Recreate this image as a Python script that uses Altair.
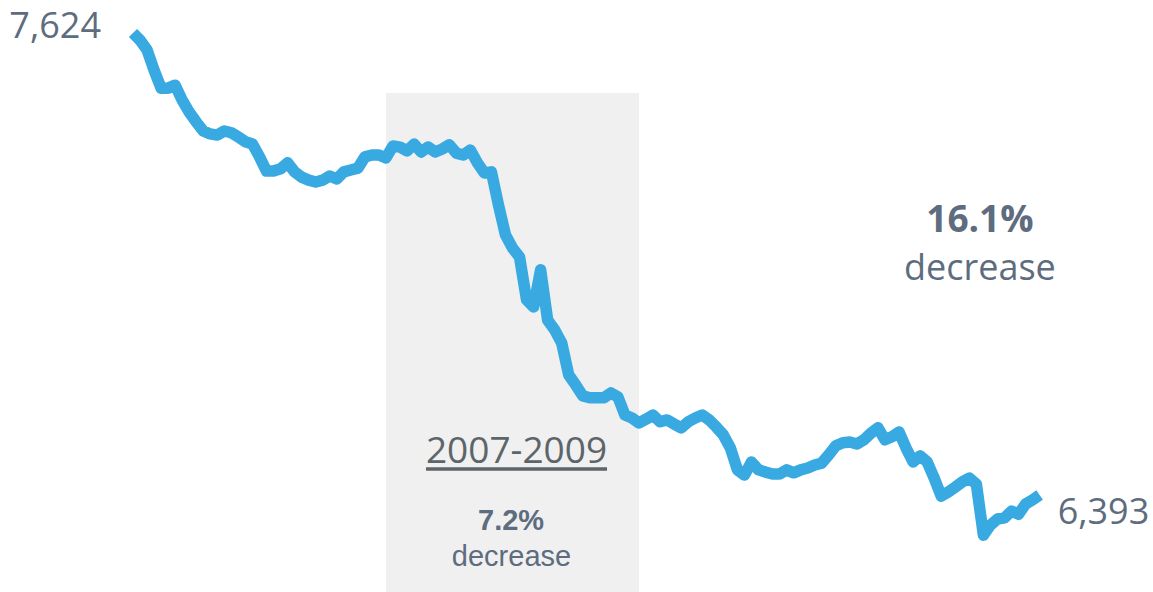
import altair as alt
import pandas as pd

# Monthly series, Jan 2004 .. Oct 2014
start_month = "2004-01"
values = [
    7624, 7605, 7579, 7525, 7477, 7477, 7485, 7445, 7413, 7387, 7363, 7355,   # 2004
    7352, 7363, 7358, 7347, 7334, 7328, 7294, 7256, 7256, 7262, 7278, 7254,   # 2005
    7240, 7232, 7227, 7232, 7243, 7235, 7254, 7259, 7264, 7294, 7299, 7299,   # 2006
    7291, 7323, 7320, 7310, 7328, 7307, 7320, 7307, 7315, 7326, 7304, 7299,   # 2007
    7312, 7278, 7251, 7254, 7166, 7086, 7051, 7027, 6913, 6894, 6993, 6859,   # 2008
    6833, 6798, 6713, 6686, 6657, 6652, 6652, 6652, 6665, 6654, 6606, 6598,   # 2009
    6585, 6595, 6606, 6588, 6593, 6582, 6572, 6588, 6598, 6606, 6593, 6574,   # 2010
    6553, 6518, 6460, 6446, 6481, 6460, 6454, 6449, 6449, 6460, 6452, 6460,   # 2011
    6465, 6473, 6478, 6500, 6524, 6532, 6534, 6529, 6540, 6558, 6572, 6540,   # 2012
    6548, 6561, 6518, 6481, 6497, 6481, 6438, 6390, 6401, 6414, 6428, 6438,   # 2013
    6422, 6286, 6313, 6329, 6332, 6350, 6342, 6369, 6380, 6393,               # 2014
]

period_label = "2007-2009"
period_start = "2007-01"
period_end = "2010-01"
period_change = "7.2%"
total_change = "16.1%"
change_word = "decrease"

dates = pd.date_range(start_month, periods=len(values), freq="MS")
base = pd.Timestamp(start_month)


def month_index(d):
    d = pd.Timestamp(d)
    return int((d.year - base.year) * 12 + (d.month - base.month))


df = pd.DataFrame({"m": [month_index(d) for d in dates], "v": values})
df["label"] = [f"{v:,}" for v in values]

XD = [-18.92, 145.13]
YD = [6134.5, 7711.9]


def xenc(field):
    return alt.X(field, type="quantitative", axis=None,
                 scale=alt.Scale(domain=XD, nice=False, zero=False))


def yenc(field):
    return alt.Y(field, type="quantitative", axis=None,
                 scale=alt.Scale(domain=YD, nice=False, zero=False))


INK = "#5d6c7e"
GREY_INK = "#5c6569"


def txt(m, v, t, **kw):
    return alt.Chart(pd.DataFrame({"m": [m], "v": [v], "t": [t]})).mark_text(
        baseline="alphabetic", **kw
    ).encode(x=xenc("m"), y=yenc("v"), text=alt.Text("t", type="nominal"))


band = alt.Chart(pd.DataFrame({
    "m": [month_index(period_start)], "m2": [month_index(period_end)],
    "v": [7464.0], "v2": [YD[0]],
})).mark_rect(color="#f0f0f0").encode(
    x=xenc("m"), x2="m2", y=yenc("v"), y2="v2",
)

line = alt.Chart(df).mark_line(
    color="#39a9e1", strokeWidth=11.5, strokeJoin="round"
).encode(x=xenc("m"), y=yenc("v"))

first_lbl = alt.Chart(df.iloc[[0]]).mark_text(
    font="Open Sans", fontSize=36, color=INK, align="right",
    baseline="alphabetic", dx=-32, dy=5,
).encode(x=xenc("m"), y=yenc("v"), text=alt.Text("label", type="nominal"))

last_lbl = alt.Chart(df.iloc[[-1]]).mark_text(
    font="Open Sans", fontSize=36, color=INK, align="left",
    baseline="alphabetic", dx=18, dy=29,
).encode(x=xenc("m"), y=yenc("v"), text=alt.Text("label", type="nominal"))

total_pct = txt(120.5, 7094, total_change, font="Open Sans", fontSize=37,
                fontWeight="bold", color=INK, align="center")
total_word = txt(120.5, 6966, change_word, font="Open Sans", fontSize=36,
                 color=INK, align="center")

period_txt = txt(54.57, 6478, period_label, font="Open Sans", fontSize=37,
                 color=GREY_INK, align="center")

underline = alt.Chart(pd.DataFrame({"m": [41.69], "m2": [67.45], "v": [6462]})).mark_rule(
    color=GREY_INK, strokeWidth=3.5
).encode(x=xenc("m"), x2="m2", y=yenc("v"))

period_pct = txt(53.8, 6300, period_change, font="Liberation Sans", fontSize=29,
                 fontWeight="bold", color=INK, align="center")
period_word = txt(53.86, 6204, change_word, font="Liberation Sans", fontSize=29,
                  color=INK, align="center")

chart = alt.layer(
    band, line, first_lbl, last_lbl, total_pct, total_word,
    period_txt, underline, period_pct, period_word
).properties(
    width=1153, height=592, padding=0, autosize=alt.AutoSizeParams(type="none"),
    background="white",
).configure_view(strokeWidth=0)

chart.save("out.html", embed_options={"renderer": "svg", "actions": False})
